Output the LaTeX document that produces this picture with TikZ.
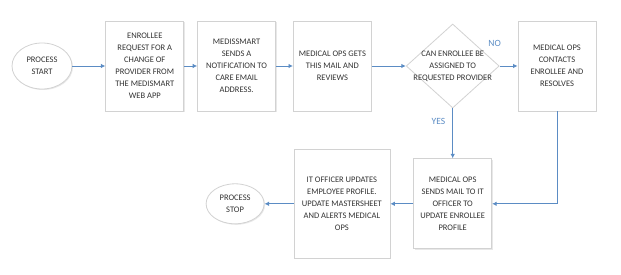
\documentclass[tikz,border=0pt]{standalone}
\usepackage{xcolor}
\usepackage{fontspec}
\setmainfont{Carlito}
\usepackage{tikz}
\usetikzlibrary{positioning, arrows.meta, shapes.geometric, shadows}

\definecolor{flowblue}{HTML}{5B8CC4}
\definecolor{boxline}{HTML}{D2D2D2}
\definecolor{boxtext}{HTML}{333333}

\begin{document}
\begin{tikzpicture}[
    x=1pt, y=1pt,
    every node/.style={
        align=center,
        text=boxtext,
        font=\fontsize{8.5}{12}\selectfont
    },
    stepbox/.style={
        draw=boxline,
        line width=0.8pt,
        fill=white,
        drop shadow={shadow xshift=1pt, shadow yshift=-1pt, opacity=0.18},
        minimum width=78pt,
        minimum height=90pt,
        inner sep=2pt
    },
    terminal/.style={
        ellipse,
        draw=boxline,
        line width=0.8pt,
        fill=white,
        drop shadow={shadow xshift=1pt, shadow yshift=-1pt, opacity=0.18},
        inner sep=0pt
    },
    decision/.style={
        diamond,
        draw=boxline,
        line width=0.8pt,
        fill=white,
        minimum width=93pt,
        minimum height=84pt,
        inner sep=0pt
    },
    flow/.style={-{Latex[length=4.5pt,width=4.5pt]}, draw=flowblue, line width=0.9pt},
    answer/.style={text=flowblue, font=\fontsize{9.5}{11}\selectfont, inner sep=1pt}
]

\useasboundingbox (0,0) rectangle (621,-275);

% top row
\node[terminal, minimum width=60pt, minimum height=46pt] (start) at (42,-66) {PROCESS\\START};
\node[stepbox, right=33pt of start] (request) {ENROLLEE\\REQUEST FOR A\\CHANGE OF\\PROVIDER FROM\\THE MEDISMART\\WEB APP};
\node[stepbox, right=13pt of request] (notify) {MEDISSMART\\SENDS A\\NOTIFICATION TO\\CARE EMAIL\\ADDRESS.};
\node[stepbox, right=17pt of notify] (review) {MEDICAL OPS GETS\\THIS MAIL AND\\REVIEWS};
\node[decision, right=34pt of review] (check) {};
\node (checktext) at (check) {CAN ENROLLEE BE\\ASSIGNED TO\\REQUESTED PROVIDER};
\node[stepbox, right=18pt of check] (resolve) {MEDICAL OPS\\CONTACTS\\ENROLLEE AND\\RESOLVES};

% bottom row
\node[stepbox, below=50pt of check] (sendmail) {MEDICAL OPS\\SENDS MAIL TO IT\\OFFICER TO\\UPDATE ENROLLEE\\PROFILE};
\node[stepbox, minimum width=96pt, minimum height=109pt, left=23pt of sendmail] (update) {IT OFFICER UPDATES\\EMPLOYEE PROFILE.\\UPDATE MASTERSHEET\\AND ALERTS MEDICAL\\OPS};
\node[terminal, minimum width=58pt, minimum height=40pt, left=29pt of update] (stop) {PROCESS\\STOP};

\draw[flow] (start) -- (request);
\draw[flow] (request) -- (notify);
\draw[flow] (notify) -- (review);
\draw[flow] (review) -- (check);
\draw[flow] (check) -- node[answer, pos=0, xshift=-5pt, yshift=23pt] (no) {NO} (resolve);
\draw[flow] (check.south) -- node[answer, pos=0.26, left=6pt] (yes) {YES} (sendmail);
\draw[flow] (resolve.south) |- (sendmail.east);
\draw[flow] (sendmail) -- (update);
\draw[flow] (update) -- (stop);

\end{tikzpicture}
\end{document}
